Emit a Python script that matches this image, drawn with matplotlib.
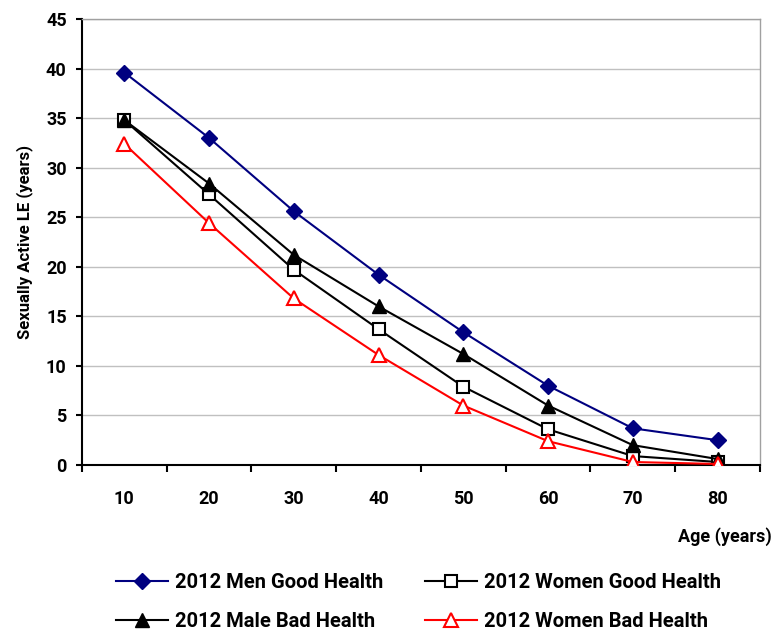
import matplotlib
matplotlib.use("Agg")
import matplotlib.pyplot as plt
import numpy as np

ages = [10, 20, 30, 40, 50, 60, 70, 80]
men_good = [39.6, 33.0, 25.6, 19.2, 13.4, 8.0, 3.7, 2.5]
women_good = [34.8, 27.3, 19.7, 13.7, 7.9, 3.6, 0.9, 0.3]
male_bad = [34.8, 28.4, 21.2, 16.0, 11.2, 6.0, 2.0, 0.6]
women_bad = [32.4, 24.4, 16.8, 11.1, 6.0, 2.4, 0.3, 0.1]

plt.rcParams["font.family"] = ["Roboto", "DejaVu Sans"]
plt.rcParams["font.weight"] = "bold"

fig = plt.figure(figsize=(7.77, 6.34), dpi=100)
ax = fig.add_axes([0.1055, 0.2666, 0.8725, 0.7034])

x = np.arange(len(ages))
ax.plot(x, men_good, color="#000080", lw=1.5, marker="D", ms=8,
        mfc="#000080", mec="#000080", label="2012 Men Good Health", zorder=3)
ax.plot(x, women_good, color="black", lw=1.5, marker="s", ms=8,
        mfc="white", mec="black", mew=1.5, label="2012 Women Good Health", zorder=3)
ax.plot(x, male_bad, color="black", lw=1.5, marker="^", ms=10,
        mfc="black", mec="black", label="2012 Male Bad Health", zorder=3)
ax.plot(x, women_bad, color="red", lw=1.5, marker="^", ms=10,
        mfc="white", mec="red", mew=1.5, label="2012 Women Bad Health", zorder=3)

ax.set_xlim(-0.5, len(ages) - 0.5)
ax.set_ylim(0, 45)
ax.set_yticks(np.arange(0, 46, 5))
ax.grid(axis="y", color="#c0c0c0", lw=1)
ax.set_axisbelow(True)

# category labels centred, tick marks between categories
ax.set_xticks(x)
ax.set_xticklabels([str(a) for a in ages], fontweight="bold")
ax.set_xticks(np.arange(-0.5, len(ages), 1), minor=True)
ax.tick_params(axis="x", which="major", length=0, pad=18, labelsize=13)
ax.tick_params(axis="x", which="minor", length=5, width=1.5, direction="out")
ax.tick_params(axis="y", length=4, width=1.5, direction="out", labelsize=13, pad=7)
for lbl in ax.get_yticklabels():
    lbl.set_fontweight("bold")

for side in ("top", "right"):
    ax.spines[side].set_color("#a0a0a0")
    ax.spines[side].set_linewidth(1)
for side in ("left", "bottom"):
    ax.spines[side].set_color("black")
    ax.spines[side].set_linewidth(1.5)

ax.set_ylabel("Sexually Active LE (years)", fontsize=12, fontweight="bold", labelpad=9)
fig.text(0.9936, 0.153, "Age (years)", ha="right", va="center",
         fontsize=13, fontweight="bold")

handles, labels = ax.get_legend_handles_labels()
order = [0, 2, 1, 3]
fig.legend([handles[i] for i in order], [labels[i] for i in order],
           loc="lower left", bbox_to_anchor=(0.149, 0.004), ncol=2,
           frameon=False, borderpad=0, borderaxespad=0,
           handlelength=2.6, handletextpad=0.35,
           columnspacing=2.05, labelspacing=1.0,
           prop={"weight": "bold", "size": 14.5})

fig.savefig("out.png", dpi=100)
